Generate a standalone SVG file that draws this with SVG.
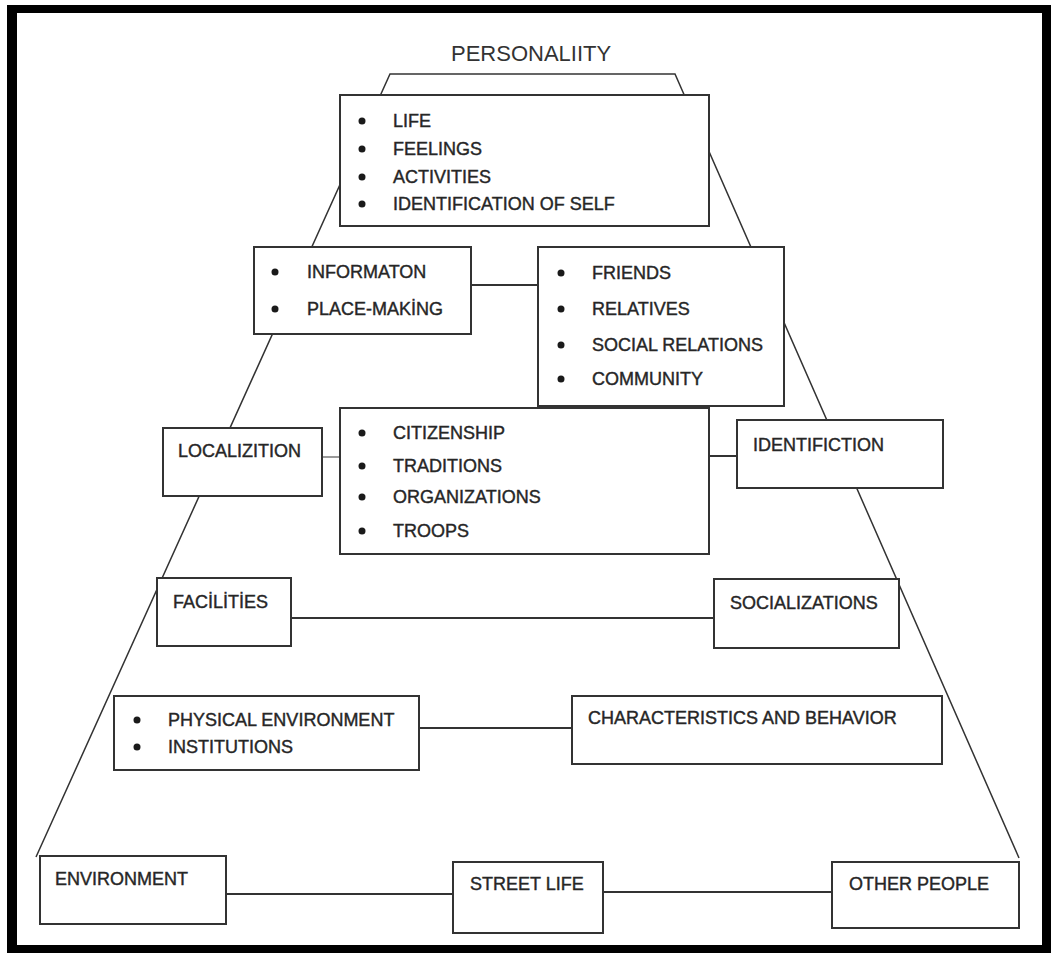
<svg xmlns="http://www.w3.org/2000/svg" width="1051" height="953" viewBox="0 0 1051 953">
  <style>
    .box { fill: #ffffff; stroke: #333333; stroke-width: 2; }
    .frame { fill: none; stroke: #333333; stroke-width: 1.5; }
    .link { stroke: #333333; stroke-width: 2; fill: none; }
    .link-light { stroke: #9a9a9a; stroke-width: 2; fill: none; }
    .t { font-family: "Liberation Sans", Arial, sans-serif; font-size: 18px; fill: #262626; stroke: #262626; stroke-width: 0.4; }
    .title { font-family: "Liberation Sans", Arial, sans-serif; font-size: 22px; fill: #333333; }
    .dot { fill: #1a1a1a; }
  </style>

  <!-- page background and black border -->
  <rect x="0" y="0" width="1051" height="953" fill="#ffffff"/>
  <g id="border" fill="#000000">
    <rect x="7" y="5" width="1044" height="8"/>
    <rect x="7" y="5" width="10" height="948"/>
    <rect x="7" y="945" width="1044" height="8"/>
    <rect x="1042" y="5" width="9" height="948"/>
  </g>

  <text class="title" x="451" y="61">PERSONALIITY</text>

  <!-- pyramid outline behind the boxes -->
  <g id="connectors">
    <polyline class="frame" points="36,857 390,74 675,74 1019,858"/>
    <line class="link" x1="471" y1="285" x2="538" y2="285"/>
    <line class="link-light" x1="322" y1="457" x2="340" y2="457"/>
    <line class="link" x1="709" y1="456" x2="737" y2="456"/>
    <line class="link" x1="291" y1="618" x2="714" y2="618"/>
    <line class="link" x1="419" y1="728" x2="572" y2="728"/>
    <line class="link" x1="226" y1="894" x2="453" y2="894"/>
    <line class="link" x1="603" y1="892" x2="832" y2="892"/>
  </g>

  <g id="self">
    <rect class="box" x="340" y="95" width="369" height="131"/>
    <circle class="dot" cx="362" cy="121" r="3.5"/>
    <circle class="dot" cx="362" cy="149" r="3.5"/>
    <circle class="dot" cx="362" cy="177" r="3.5"/>
    <circle class="dot" cx="362" cy="204" r="3.5"/>
    <text class="t" x="393" y="127">LIFE</text>
    <text class="t" x="393" y="155">FEELINGS</text>
    <text class="t" x="393" y="183">ACTIVITIES</text>
    <text class="t" x="393" y="210">IDENTIFICATION OF SELF</text>
  </g>

  <g id="information">
    <rect class="box" x="254" y="247" width="217" height="87"/>
    <circle class="dot" cx="275" cy="272" r="3.5"/>
    <circle class="dot" cx="275" cy="309" r="3.5"/>
    <text class="t" x="307" y="278">INFORMATON</text>
    <text class="t" x="307" y="315">PLACE-MAKİNG</text>
  </g>

  <g id="friends">
    <rect class="box" x="538" y="247" width="246" height="159"/>
    <circle class="dot" cx="561" cy="273" r="3.5"/>
    <circle class="dot" cx="561" cy="309" r="3.5"/>
    <circle class="dot" cx="561" cy="345" r="3.5"/>
    <circle class="dot" cx="561" cy="379" r="3.5"/>
    <text class="t" x="592" y="279">FRIENDS</text>
    <text class="t" x="592" y="315">RELATIVES</text>
    <text class="t" x="592" y="351">SOCIAL RELATIONS</text>
    <text class="t" x="592" y="385">COMMUNITY</text>
  </g>

  <g id="localization">
    <rect class="box" x="163" y="428" width="159" height="68"/>
    <text class="t" x="178" y="457">LOCALIZITION</text>
  </g>

  <g id="citizenship">
    <rect class="box" x="340" y="408" width="369" height="146"/>
    <circle class="dot" cx="362" cy="433" r="3.5"/>
    <circle class="dot" cx="362" cy="466" r="3.5"/>
    <circle class="dot" cx="362" cy="497" r="3.5"/>
    <circle class="dot" cx="362" cy="531" r="3.5"/>
    <text class="t" x="393" y="439">CITIZENSHIP</text>
    <text class="t" x="393" y="472">TRADITIONS</text>
    <text class="t" x="393" y="503">ORGANIZATIONS</text>
    <text class="t" x="393" y="537">TROOPS</text>
  </g>

  <g id="identification">
    <rect class="box" x="737" y="420" width="206" height="68"/>
    <text class="t" x="753" y="451">IDENTIFICTION</text>
  </g>

  <g id="facilities">
    <rect class="box" x="157" y="578" width="134" height="68"/>
    <text class="t" x="173" y="608">FACİLİTİES</text>
  </g>

  <g id="socializations">
    <rect class="box" x="714" y="579" width="185" height="69"/>
    <text class="t" x="730" y="609">SOCIALIZATIONS</text>
  </g>

  <g id="physical">
    <rect class="box" x="114" y="696" width="305" height="74"/>
    <circle class="dot" cx="137" cy="720" r="3.5"/>
    <circle class="dot" cx="137" cy="747" r="3.5"/>
    <text class="t" x="168" y="726">PHYSICAL ENVIRONMENT</text>
    <text class="t" x="168" y="753">INSTITUTIONS</text>
  </g>

  <g id="characteristics">
    <rect class="box" x="572" y="696" width="370" height="68"/>
    <text class="t" x="588" y="724">CHARACTERISTICS AND BEHAVIOR</text>
  </g>

  <g id="environment">
    <rect class="box" x="40" y="856" width="186" height="68"/>
    <text class="t" x="55" y="885">ENVIRONMENT</text>
  </g>

  <g id="street-life">
    <rect class="box" x="453" y="862" width="150" height="71"/>
    <text class="t" x="470" y="890">STREET LIFE</text>
  </g>

  <g id="other-people">
    <rect class="box" x="832" y="862" width="187" height="66"/>
    <text class="t" x="849" y="890">OTHER PEOPLE</text>
  </g>
</svg>
